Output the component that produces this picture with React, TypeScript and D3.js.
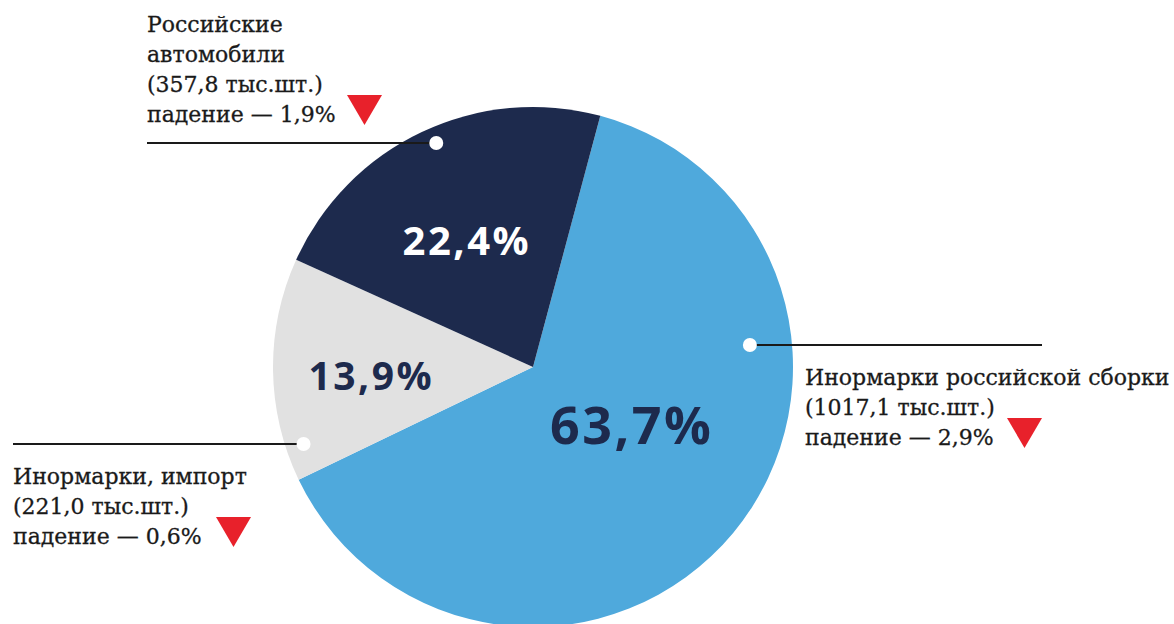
import { useMemo } from 'react';
import * as d3 from 'd3';

// data
const categories = ['Инормарки российской сборки', 'Инормарки, импорт', 'Российские автомобили'];
const shares = [63.7, 13.9, 22.4];
const volumes = ['1017,1', '221,0', '357,8'];
const drops = ['2,9', '0,6', '1,9'];
const colors = ['#4fa9dc', '#e1e1e1', '#1d2a4d'];
const pctColors = ['#1d2a4d', '#1d2a4d', '#ffffff'];

const width = 1174;
const height = 624;
const cx = 533;
const cy = 367;
const radius = 260;

// label placement (layout only)
const labelLayout = [
  { side: 'right', lineY: -22, lineEnd: 1042, textX: 805, pctR: 114, pctA: 121, pctSize: 52, dotR: 218, triX: 1007 },
  { side: 'left', lineY: 77, lineEnd: 13, textX: 13, pctR: 163, pctA: 267, pctSize: 39, dotR: 242, triX: 216 },
  { side: 'top', lineY: -224, lineEnd: 147, textX: 147, pctR: 143, pctA: 332, pctSize: 40, dotR: 244, triX: 347 },
];

function App() {
  const arcs = useMemo(() => {
    const pie = d3.pie<number>().sort(null).startAngle((15 * Math.PI) / 180).endAngle((375 * Math.PI) / 180);
    return pie(shares);
  }, []);
  const arc = d3.arc<d3.PieArcDatum<number>>().innerRadius(0).outerRadius(radius);
  const fmt = (v: number) => v.toFixed(1).replace('.', ',') + '%';
  const serif = '"DejaVu Serif", serif';
  const tri = (x: number, y: number) => `M${x},${y} L${x + 35},${y} L${x + 17.5},${y + 30} Z`;

  return (
    <svg width={width} height={height} viewBox={`0 0 ${width} ${height}`}
      style={{ position: 'absolute', left: 0, top: 0, background: '#fff' }}>
      <g transform={`translate(${cx},${cy})`}>
        {arcs.map((a, i) => (
          <path key={i} d={arc(a) || ''} fill={colors[i]} />
        ))}
        {arcs.map((a, i) => {
          const L = labelLayout[i];
          const ang = (L.pctA * Math.PI) / 180;
          return (
            <text key={'p' + i} x={L.pctR * Math.sin(ang) + 1} y={-L.pctR * Math.cos(ang)} dy="0.36em"
              textAnchor="middle" fill={pctColors[i]} fontFamily='"Open Sans", sans-serif' fontWeight={700}
              fontSize={L.pctSize} letterSpacing={2.5}>{fmt(a.data)}</text>
          );
        })}
      </g>

      {categories.map((c, i) => {
        const L = labelLayout[i];
        const dy = L.lineY;
        const dx = Math.sqrt(L.dotR * L.dotR - dy * dy) * (L.side === 'right' ? 1 : -1);
        const dotX = cx + dx;
        const dotY = cy + dy;
        let textLines: string[];
        let baseY: number;
        if (L.side === 'top') {
          textLines = ['Российские', 'автомобили', `(${volumes[i]} тыс.шт.)`, `падение — ${drops[i]}%`];
          baseY = dotY - 111;
        } else {
          textLines = [c, `(${volumes[i]} тыс.шт.)`, `падение — ${drops[i]}%`];
          baseY = dotY + 40;
        }
        const triY = baseY + (textLines.length - 1) * 30 - 27;
        return (
          <g key={'l' + i}>
            <line x1={dotX} x2={L.lineEnd} y1={dotY} y2={dotY} stroke="#1a1a1a" strokeWidth={2} />
            <circle cx={dotX} cy={dotY} r={7} fill="#fff" />
            <text fontFamily={serif} fontSize={22} fill="#1a1a1a" stroke="#1a1a1a" strokeWidth={0.3}>
              {textLines.map((t, k) => (
                <tspan key={k} x={L.textX} y={baseY + k * 30}>{t}</tspan>
              ))}
            </text>
            <path d={tri(L.triX, triY)} fill="#e8212b" />
          </g>
        );
      })}
    </svg>
  );
}

export default App;
